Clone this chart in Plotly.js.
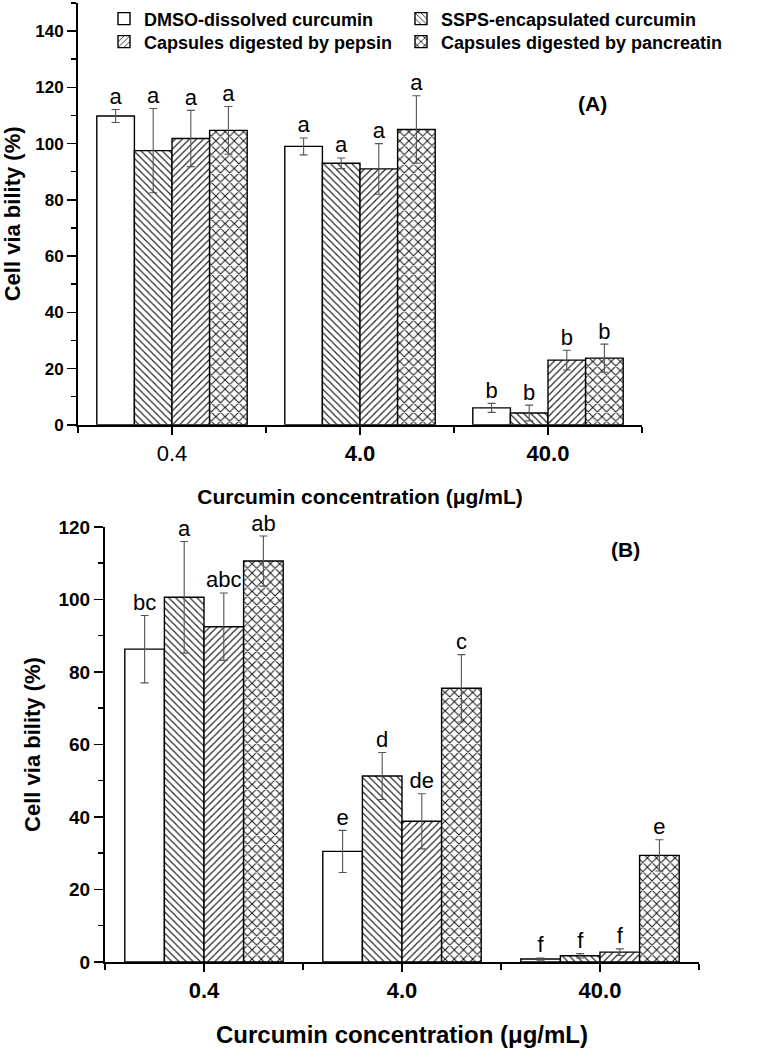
<!DOCTYPE html>
<html>
<head>
<meta charset="utf-8">
<script src="https://cdn.plot.ly/plotly-3.0.1.min.js"></script>
<style>html,body{margin:0;padding:0;background:#fff;}#chart{width:760px;height:1050px;}</style>
</head>
<body>
<div id="chart"></div>
<script>
// ---- data ----
const categories = ['0.4', '4.0', '40.0'];
const seriesNames = ['DMSO-dissolved curcumin', 'SSPS-encapsulated curcumin', 'Capsules digested by pepsin', 'Capsules digested by pancreatin'];

// Panel A
const dmsoA = [109.8, 99.0, 6.0];
const sspsA = [97.5, 93.0, 4.2];
const pepsinA = [101.8, 91.0, 23.0];
const pancreatinA = [104.7, 105.0, 23.7];
const dmsoAErr = [2.3, 3.0, 1.6];
const sspsAErr = [15.0, 1.9, 2.8];
const pepsinAErr = [10.0, 9.0, 3.5];
const pancreatinAErr = [8.5, 12.0, 5.0];
const dmsoALab = ['a', 'a', 'b'];
const sspsALab = ['a', 'a', 'b'];
const pepsinALab = ['a', 'a', 'b'];
const pancreatinALab = ['a', 'a', 'b'];

// Panel B
const dmsoB = [86.3, 30.5, 0.8];
const sspsB = [100.6, 51.3, 1.7];
const pepsinB = [92.5, 38.8, 2.7];
const pancreatinB = [110.6, 75.5, 29.4];
const dmsoBErr = [9.3, 5.8, 0.3];
const sspsBErr = [15.4, 6.5, 0.6];
const pepsinBErr = [9.3, 7.6, 0.9];
const pancreatinBErr = [6.9, 9.3, 4.3];
const dmsoBLab = ['bc', 'e', 'f'];
const sspsBLab = ['a', 'd', 'f'];
const pepsinBLab = ['abc', 'de', 'f'];
const pancreatinBLab = ['ab', 'c', 'e'];

// ---- build ----
const FONT = 'Liberation Sans, Arial, Helvetica, sans-serif';
const patterns = ['', '\\', '/', 'x'];
const patSizes = [5, 5, 5, 6.5];
const patSolidity = [0.22, 0.22, 0.22, 0.3];
const xIdx = categories.map((c, i) => i);
const legendIds = ['legend', 'legend2', 'legend3', 'legend4'];

function barTrace(name, vals, errs, k, xa, ya, showleg) {
  return {
    type: 'bar', name: name, x: xIdx, y: vals,
    xaxis: xa, yaxis: ya, showlegend: showleg, legend: legendIds[k],
    marker: {
      color: '#ffffff',
      line: {color: '#000000', width: 1.4},
      pattern: {shape: patterns[k], fgcolor: '#1a1a1a', bgcolor: '#ffffff', size: patSizes[k], solidity: patSolidity[k]}
    },
    error_y: {type: 'data', array: errs, visible: true, color: '#555555', thickness: 1.1, width: 4},
    hoverinfo: 'skip'
  };
}
function labelTrace(vals, errs, labs, k, xa, ya) {
  return {
    type: 'scatter', mode: 'text',
    x: xIdx.map(c => c + (k - 1.5) * 0.2),
    y: vals.map((v, i) => v + errs[i]),
    text: labs, textposition: 'top center',
    textfont: {family: FONT, size: 22, color: '#000'},
    xaxis: xa, yaxis: ya, showlegend: false, hoverinfo: 'skip', cliponaxis: false
  };
}

const A = [[dmsoA, dmsoAErr, dmsoALab], [sspsA, sspsAErr, sspsALab], [pepsinA, pepsinAErr, pepsinALab], [pancreatinA, pancreatinAErr, pancreatinALab]];
const B = [[dmsoB, dmsoBErr, dmsoBLab], [sspsB, sspsBErr, sspsBLab], [pepsinB, pepsinBErr, pepsinBLab], [pancreatinB, pancreatinBErr, pancreatinBLab]];

const data = [];
A.forEach((s, k) => data.push(barTrace(seriesNames[k], s[0], s[1], k, 'x', 'y', true)));
B.forEach((s, k) => data.push(barTrace(seriesNames[k], s[0], s[1], k, 'x2', 'y2', false)));
A.forEach((s, k) => data.push(labelTrace(s[0], s[1], s[2], k, 'x', 'y')));
B.forEach((s, k) => data.push(labelTrace(s[0], s[1], s[2], k, 'x2', 'y2')));

const W = 760, H = 1050;
const axisCommon = {
  showline: true, linecolor: '#000', linewidth: 2, showgrid: false, zeroline: false,
  ticks: 'outside', tickcolor: '#000', tickwidth: 1.5
};
const ticktextA = categories.map((c, i) => i === 0 ? c : '<b>' + c + '</b>');
const ticktextB = categories.map(c => '<b>' + c + '</b>');
const xTitle = '<b>Curcumin concentration (μg/mL)</b>';
const yTitle = '<b>Cell via bility (%)</b>';

function legendBox(xpx, ypx) {
  return {
    x: xpx / W, y: 1 - ypx / H, xanchor: 'left', yanchor: 'middle',
    font: {family: FONT, size: 18, weight: 'bold'},
    bgcolor: 'rgba(0,0,0,0)', borderwidth: 0
  };
}

const layout = {
  width: W, height: H,
  margin: {l: 0, r: 0, t: 0, b: 0},
  paper_bgcolor: '#fff', plot_bgcolor: '#fff',
  font: {family: FONT, color: '#000'},
  barmode: 'group', bargap: 0.2, bargroupgap: 0,
  showlegend: true,
  legend: legendBox(104, 16),
  legend2: legendBox(401, 16),
  legend3: legendBox(104, 39),
  legend4: legendBox(401, 39),
  xaxis: Object.assign({}, axisCommon, {
    domain: [78 / W, 642 / W], anchor: 'y', range: [-0.5, 2.5],
    tickmode: 'array', tickvals: xIdx, ticktext: ticktextA, ticklen: 8,
    tickfont: {family: FONT, size: 22},
    minor: {tickmode: 'array', tickvals: [-0.5, 0.5, 1.5, 2.5], ticks: 'outside', ticklen: 6, tickwidth: 1.5, tickcolor: '#000', showgrid: false},
    title: {text: xTitle, font: {family: FONT, size: 21}, standoff: 24}
  }),
  yaxis: Object.assign({}, axisCommon, {
    domain: [1 - 423 / H, 1], anchor: 'x', range: [0, 150],
    tickmode: 'array', tickvals: [0, 20, 40, 60, 80, 100, 120, 140], ticklen: 9,
    tickfont: {family: FONT, size: 17, weight: 'bold'},
    minor: {tickmode: 'array', tickvals: [10, 30, 50, 70, 90, 110, 130, 150], ticks: 'outside', ticklen: 5, tickwidth: 1.5, tickcolor: '#000', showgrid: false},
    title: {text: yTitle, font: {family: FONT, size: 22}, standoff: 10}
  }),
  xaxis2: Object.assign({}, axisCommon, {
    domain: [105 / W, 699 / W], anchor: 'y2', range: [-0.5, 2.5],
    tickmode: 'array', tickvals: xIdx, ticktext: ticktextB, ticklen: 8,
    tickfont: {family: FONT, size: 22},
    minor: {tickmode: 'array', tickvals: [-0.5, 0.5, 1.5, 2.5], ticks: 'outside', ticklen: 6, tickwidth: 1.5, tickcolor: '#000', showgrid: false},
    title: {text: xTitle, font: {family: FONT, size: 24}, standoff: 24}
  }),
  yaxis2: Object.assign({}, axisCommon, {
    domain: [1 - 961.7 / H, 1 - 525.5 / H], anchor: 'x2', range: [0, 120],
    tickmode: 'array', tickvals: [0, 20, 40, 60, 80, 100, 120], ticklen: 9,
    tickfont: {family: FONT, size: 19, weight: 'bold'},
    minor: {tickmode: 'array', tickvals: [10, 30, 50, 70, 90, 110], ticks: 'outside', ticklen: 5, tickwidth: 1.5, tickcolor: '#000', showgrid: false},
    title: {text: yTitle, font: {family: FONT, size: 22}, standoff: 12}
  }),
  annotations: [
    {text: '<b>(A)</b>', xref: 'paper', yref: 'paper', x: 592 / W, y: 1 - 101 / H, showarrow: false, font: {family: FONT, size: 21}, xanchor: 'center', yanchor: 'middle'},
    {text: '<b>(B)</b>', xref: 'paper', yref: 'paper', x: 625 / W, y: 1 - 548 / H, showarrow: false, font: {family: FONT, size: 21}, xanchor: 'center', yanchor: 'middle'}
  ]
};

Plotly.newPlot('chart', data, layout, {staticPlot: true, displayModeBar: false});
</script>
</body>
</html>
